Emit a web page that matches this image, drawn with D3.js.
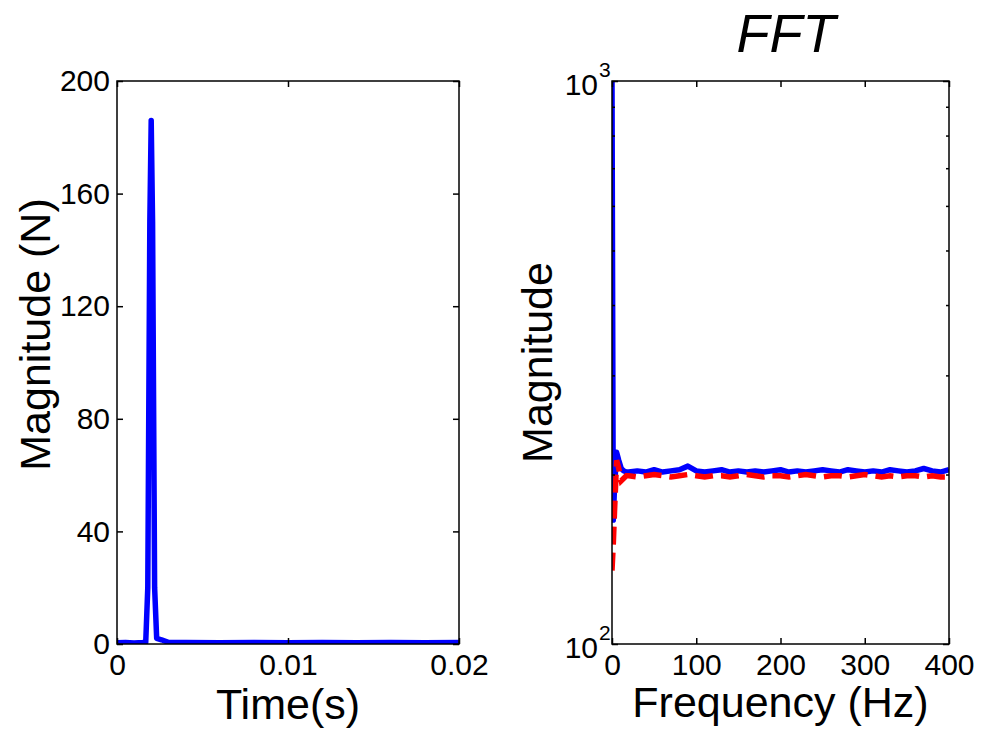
<!DOCTYPE html>
<html lang="en">
<head>
<meta charset="UTF-8">
<title>Force pulse and FFT</title>
<style>
  body { margin: 0; background: #fff; }
  svg { display: block; font-family: "Liberation Sans", Arial, sans-serif; }
  .frame { fill: none; stroke: #000; stroke-width: 1.5px; }
  .tick line { stroke: #000; stroke-width: 1.5px; }
  .tick text { font-size: 30px; fill: #000; }
  .blue { fill: none; stroke: #0000ff; stroke-width: 5.5px; stroke-linejoin: round; }
  .red { fill: none; stroke: #ff0000; stroke-width: 5.5px; stroke-dasharray: 18 8; }
  .label { font-size: 43px; fill: #000; }
</style>
<script src="https://d3js.org/d3.v7.min.js"></script>
</head>
<body>
<div id="chart"></div>
<script>
// left panel: force pulse
const timeS = [0, 0.0005, 0.001, 0.0015, 0.00168, 0.0018, 0.00192, 0.002, 0.00208, 0.0022, 0.00232, 0.0026,
  0.003, 0.004, 0.006, 0.008, 0.01, 0.012, 0.014, 0.016, 0.018, 0.02];
const forceN = [0.4, 0.5, 0.4, 0.5, 0.6, 20, 150, 186, 150, 20, 2, 1.5,
  0.6, 0.5, 0.4, 0.5, 0.4, 0.5, 0.4, 0.5, 0.4, 0.5];
const timeTicks = [0, 0.01, 0.02];
const forceTicks = [0, 40, 80, 120, 160, 200];

// right panel: FFT magnitude
const freqHz = [0, 1.5, 3, 5.5, 8, 11, 14, 17,
  20, 30, 40, 50, 60, 70, 80, 90, 100, 110, 120, 130, 140, 150, 160, 170, 180, 190, 200,
  210, 220, 230, 240, 250, 260, 270, 280, 290, 300, 310, 320, 330, 340, 350, 360, 370, 380, 390, 400];
const fftBlue = [1000, 166, 190, 219, 212, 205, 203, 202,
  202, 203, 202, 204, 202, 203, 204, 207, 203, 202, 203, 204, 202, 203, 202, 203, 202, 203, 204,
  202, 203, 202, 203, 204, 203, 202, 204, 203, 202, 203, 202, 204, 203, 202, 203, 205, 203, 202, 204];
const fftRed = [135, 150, 172, 212, 205, 195, 197, 199,
  199, 198, 199, 200, 199, 198, 199, 200, 199, 198, 199, 199, 198, 199, 200, 199, 198, 199, 199,
  198, 199, 200, 199, 198, 199, 199, 198, 199, 200, 199, 198, 199, 198, 199, 199, 198, 199, 198, 198];
const freqTicks = [0, 100, 200, 300, 400];
const magMajor = [100, 1000];
const magMinor = [200, 300, 400, 500, 600, 700, 800, 900];

const W = 982, H = 731;
const plotTop = 81, plotBottom = 644;
const left1 = 117, right1 = 459;
const left2 = 612, right2 = 949;

const svg = d3.select("#chart").append("svg")
  .attr("width", W).attr("height", H);

// ---------- left panel ----------
const x1 = d3.scaleLinear().domain([0, 0.02]).range([left1, right1]);
const y1 = d3.scaleLinear().domain([0, 200]).range([plotBottom, plotTop]);

svg.append("clipPath").attr("id", "clip1").append("rect")
  .attr("x", left1).attr("y", plotTop).attr("width", right1 - left1).attr("height", plotBottom - plotTop);

svg.append("path")
  .datum(d3.zip(timeS, forceN))
  .attr("class", "blue")
  .attr("clip-path", "url(#clip1)")
  .attr("d", d3.line().x(d => x1(d[0])).y(d => y1(d[1])));

svg.append("g").attr("transform", `translate(0,${plotBottom})`)
  .call(d3.axisBottom(x1).tickValues(timeTicks).tickFormat(d3.format("~g")).tickSize(-6).tickPadding(10))
  .call(g => g.select(".domain").remove());
svg.append("g").attr("transform", `translate(0,${plotTop})`)
  .call(d3.axisTop(x1).tickValues(timeTicks).tickFormat("").tickSize(-6))
  .call(g => g.select(".domain").remove());
svg.append("g").attr("transform", `translate(${left1},0)`)
  .call(d3.axisLeft(y1).tickValues(forceTicks).tickSize(-6).tickPadding(7))
  .call(g => g.select(".domain").remove());
svg.append("g").attr("transform", `translate(${right1},0)`)
  .call(d3.axisRight(y1).tickValues(forceTicks).tickFormat("").tickSize(-6))
  .call(g => g.select(".domain").remove());

svg.append("rect").attr("class", "frame")
  .attr("x", left1).attr("y", plotTop).attr("width", right1 - left1).attr("height", plotBottom - plotTop);

svg.append("text").attr("class", "label")
  .attr("x", (left1 + right1) / 2).attr("y", 719)
  .attr("text-anchor", "middle").text("Time(s)");
svg.append("text").attr("class", "label")
  .attr("transform", `translate(50,${(plotTop + plotBottom) / 2 - 28}) rotate(-90)`)
  .attr("text-anchor", "middle").text("Magnitude (N)");

// ---------- right panel ----------
const x2 = d3.scaleLinear().domain([0, 400]).range([left2, right2]);
const y2 = d3.scaleLog().domain([100, 1000]).range([plotBottom, plotTop]);

svg.append("clipPath").attr("id", "clip2").append("rect")
  .attr("x", left2).attr("y", plotTop).attr("width", right2 - left2).attr("height", plotBottom - plotTop);

const line2 = d3.line().x(d => x2(d[0])).y(d => y2(d[1]));
svg.append("path")
  .datum(d3.zip(freqHz, fftBlue))
  .attr("class", "blue")
  .attr("clip-path", "url(#clip2)")
  .attr("d", line2);
svg.append("path")
  .datum(d3.zip(freqHz, fftRed))
  .attr("class", "red")
  .attr("clip-path", "url(#clip2)")
  .attr("d", line2);

svg.append("g").attr("transform", `translate(0,${plotBottom})`)
  .call(d3.axisBottom(x2).tickValues(freqTicks).tickSize(-6).tickPadding(10))
  .call(g => g.select(".domain").remove());
svg.append("g").attr("transform", `translate(0,${plotTop})`)
  .call(d3.axisTop(x2).tickValues(freqTicks).tickFormat("").tickSize(-6))
  .call(g => g.select(".domain").remove());
[[left2, d3.axisLeft], [right2, d3.axisRight]].forEach(([xp, ax]) => {
  svg.append("g").attr("transform", `translate(${xp},0)`)
    .call(ax(y2).tickValues(magMajor).tickFormat("").tickSize(-6))
    .call(g => g.select(".domain").remove());
  svg.append("g").attr("transform", `translate(${xp},0)`)
    .call(ax(y2).tickValues(magMinor).tickFormat("").tickSize(-3))
    .call(g => g.select(".domain").remove());
});

// 10^n labels
const powLab = svg.append("g").selectAll("g").data(magMajor).join("g")
  .attr("transform", d => `translate(${left2},${y2(d)})`);
powLab.append("text")
  .style("font-size", "30px")
  .attr("x", -14).attr("y", 14).attr("text-anchor", "end").text("10");
powLab.append("text")
  .style("font-size", "21px")
  .attr("x", -13).attr("y", -4).text(d => Math.round(Math.log10(d)));

svg.append("rect").attr("class", "frame")
  .attr("x", left2).attr("y", plotTop).attr("width", right2 - left2).attr("height", plotBottom - plotTop);

svg.append("text").attr("class", "label")
  .attr("x", (left2 + right2) / 2).attr("y", 717)
  .attr("text-anchor", "middle").text("Frequency (Hz)");
svg.append("text").attr("class", "label")
  .attr("transform", `translate(552,${(plotTop + plotBottom) / 2}) rotate(-90)`)
  .attr("text-anchor", "middle").text("Magnitude");

svg.append("text")
  .attr("x", 786).attr("y", 52)
  .attr("text-anchor", "middle")
  .style("font-size", "54px").style("font-style", "italic")
  .text("FFT");
</script>
</body>
</html>
